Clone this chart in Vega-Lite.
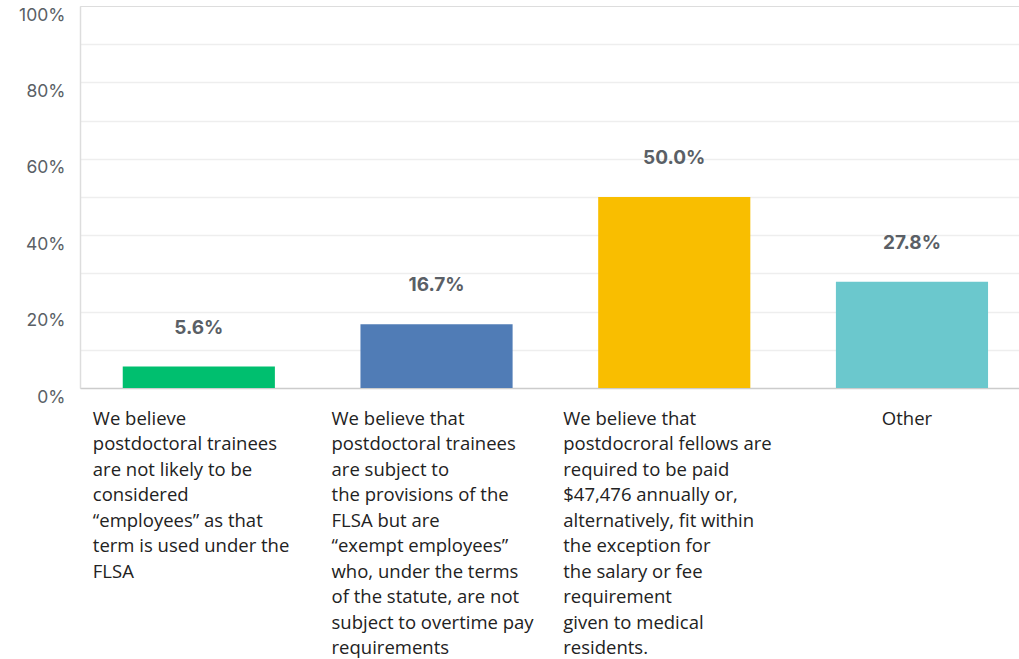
{
  "$schema": "https://vega.github.io/schema/vega-lite/v6.json",
  "autosize": {"type": "none"},
  "width": 939,
  "height": 382,
  "padding": {"left": 80, "top": 6, "right": 0, "bottom": 271},
  "background": "white",
  "data": {
    "values": [
      {"answer": "We believe\npostdoctoral trainees\nare not likely to be\nconsidered\n“employees” as that\nterm is used under the\nFLSA", "order": 1, "pct": 0.056, "label": "5.6%"},
      {"answer": "We believe that\npostdoctoral trainees\nare subject to\nthe provisions of the\nFLSA but are\n“exempt employees”\nwho, under the terms\nof the statute, are not\nsubject to overtime pay\nrequirements", "order": 2, "pct": 0.167, "label": "16.7%"},
      {"answer": "We believe that\npostdocroral fellows are\nrequired to be paid\n$47,476 annually or,\nalternatively, fit within\nthe exception for\nthe salary or fee\nrequirement\ngiven to medical\nresidents.", "order": 3, "pct": 0.5, "label": "50.0%"},
      {"answer": "Other", "order": 4, "pct": 0.278, "label": "27.8%"}
    ]
  },
  "encoding": {
    "x": {
      "field": "answer",
      "type": "nominal",
      "sort": {"field": "order"},
      "title": null,
      "scale": {"paddingInner": 0.36, "paddingOuter": 0.155, "align": 0.58},
      "axis": {
        "labelExpr": "split(datum.label, '\\n')",
        "labelAngle": 0,
        "labelAlign": {"condition": {"test": "datum.value == 'Other'", "value": "center"}, "value": "left"},
        "labelOffset": {"condition": [
          {"test": "datum.value == 'Other'", "value": -5},
          {"test": "indexof(datum.value, 'postdocroral') >= 0", "value": -111},
          {"test": "indexof(datum.value, 'exempt') >= 0", "value": -105}
        ], "value": -106},
        "labelBaseline": "top",
        "labelLineHeight": 25.5,
        "labelFont": "Open Sans",
        "labelFontSize": 18.5,
        "labelColor": "#222222",
        "labelPadding": 21,
        "labelLimit": 0,
        "ticks": false,
        "domainColor": "#cccccc",
        "domainWidth": 1.5,
        "grid": false
      }
    },
    "y": {
      "field": "pct",
      "type": "quantitative",
      "title": null,
      "scale": {"domain": [0, 1], "nice": false},
      "axis": {
        "values": [0, 0.1, 0.2, 0.3, 0.4, 0.5, 0.6, 0.7, 0.8, 0.9, 1],
        "labelExpr": "round(datum.value * 100) % 20 == 0 ? format(datum.value, '.0%') : ''",
        "labelFont": "Inter",
        "labelFontSize": 17.5,
        "labelColor": "#5a5f66",
        "labelPadding": 15,
        "labelOffset": 9,
        "ticks": false,
        "domainColor": "#dddddd",
        "domainWidth": 1.5,
        "grid": true,
        "gridColor": {"condition": {"test": "datum.value >= 0.99 || datum.value == 0", "value": "transparent"}, "value": "#eeeeee"},
        "gridWidth": 1.5
      }
    }
  },
  "layer": [
    {
      "mark": {"type": "bar"},
      "encoding": {
        "color": {
          "field": "answer",
          "type": "nominal",
          "sort": {"field": "order"},
          "scale": {"range": ["#00bf6f", "#507cb6", "#f9be00", "#6bc8cd"]},
          "legend": null
        }
      }
    },
    {
      "mark": {"type": "text", "baseline": "middle", "dy": -39, "font": "Inter", "fontSize": 19, "fontWeight": "bold", "color": "#5a5f66"},
      "encoding": {"text": {"field": "label"}}
    }
  ]
}
